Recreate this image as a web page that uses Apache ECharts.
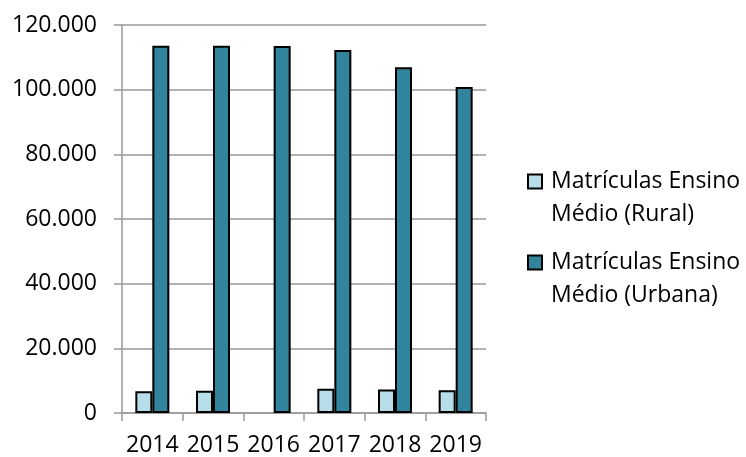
<!DOCTYPE html>
<html>
<head>
<meta charset="utf-8">
<script src="https://cdn.jsdelivr.net/npm/echarts@6/dist/echarts.min.js"></script>
<style>
	html, body {margin: 0; padding: 0; background: #fff;}
	#chart {width: 746px; height: 457px;}
</style>
</head>
<body>
<div id="chart"></div>
<script>
// anos do gráfico
const years = ["2014", "2015", "2016", "2017", "2018", "2019"];
// matrículas (2016 rural sem dado)
const rural = [6700, 6900, null, 7500, 7300, 7000];
const urbana = [113600, 113600, 113500, 112300, 106900, 100800];
const yTicks = [0, 20000, 40000, 60000, 80000, 100000, 120000];

const FONT = "Open Sans";
const GRID_COLOR = "#999999";

const fmt = (v) => v === 0 ? "0" : String(v).replace(/\B(?=(\d{3})+(?!\d))/g, ".");

const chart = echarts.init(document.getElementById("chart"));
chart.setOption({
	animation: false,
	textStyle: {fontFamily: FONT},
	grid: {left: 122, right: 260, top: 25, bottom: 44, containLabel: false, outerBoundsMode: "none"},
	legend: {
		orient: "vertical",
		left: 527,
		top: 132,
		padding: 0,
		itemWidth: 14,
		itemHeight: 14,
		itemGap: -18,
		icon: "rect",
		textStyle: {fontFamily: FONT, fontSize: 23, color: "#000", lineHeight: 33, padding: [0, 0, 0, 4]},
		// linha vazia em cima para o quadrado ficar alinhado com a 1a linha
		formatter: (name) => "\n" + name.replace(" Médio", "\nMédio"),
		data: ["Matrículas Ensino Médio (Rural)", "Matrículas Ensino Médio (Urbana)"],
	},
	xAxis: {
		type: "category",
		data: years,
		axisLine: {lineStyle: {color: GRID_COLOR, width: 1.5}},
		axisTick: {show: true, length: 8, lineStyle: {color: GRID_COLOR, width: 1.5}},
		axisLabel: {fontFamily: FONT, fontSize: 23, color: "#000", margin: 21, interval: 0},
	},
	yAxis: {
		type: "value",
		min: yTicks[0],
		max: yTicks[yTicks.length - 1],
		interval: 20000,
		axisLine: {show: true, lineStyle: {color: GRID_COLOR, width: 1.5}},
		axisTick: {show: true, length: 8, lineStyle: {color: GRID_COLOR, width: 1.5}},
		splitLine: {lineStyle: {color: GRID_COLOR, width: 1.5}},
		axisLabel: {fontFamily: FONT, fontSize: 23, color: "#000", margin: 25, formatter: fmt},
	},
	series: [
		{
			name: "Matrículas Ensino Médio (Rural)",
			type: "bar",
			data: rural,
			barWidth: 17,
			barGap: "0%",
			itemStyle: {color: "#b7dde8", borderColor: "#000", borderWidth: 2},
		},
		{
			name: "Matrículas Ensino Médio (Urbana)",
			type: "bar",
			data: urbana,
			barWidth: 17,
			barGap: "0%",
			itemStyle: {color: "#31849b", borderColor: "#000", borderWidth: 2},
		},
	],
});
</script>
</body>
</html>
